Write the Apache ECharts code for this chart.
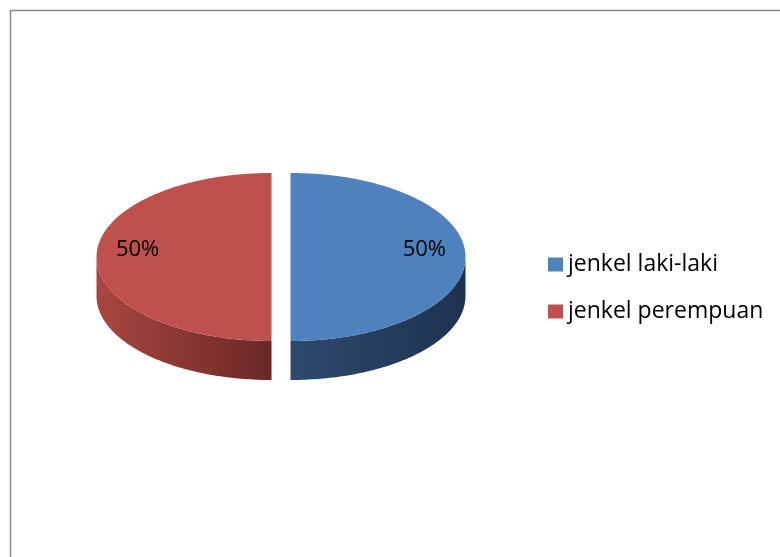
<!DOCTYPE html>
<html><head><meta charset="utf-8">
<script src="https://cdn.jsdelivr.net/npm/echarts@6/dist/echarts.min.js"></script>
<style>html,body{margin:0;padding:0;background:#fff}#c{width:780px;height:557px}</style>
</head><body><div id="c"></div>
<script>
var categories = ['jenkel laki-laki', 'jenkel perempuan'];
var values = [50, 50];
var topColors = ['#4F81BD', '#C0504D'];
var sideColorsA = ['#2D4A6E', '#A8463F'];
var sideColorsB = ['#1E3250', '#6A2826'];

var total = values.reduce(function (a, b) { return a + b; }, 0);
var FONT = '"Open Sans", "Noto Sans", sans-serif';

function makeRender(idx) {
  return function (params, api) {
    var cx = 281, cy = 257, rx = 175, ry = 84, depth = 39, explode = 9.5;
    var before = 0;
    for (var i = 0; i < idx; i++) before += values[i];
    var v = api.value(0);
    var a0 = before / total * Math.PI * 2;
    var a1 = (before + v) / total * Math.PI * 2;
    var mid = (a0 + a1) / 2;
    var ox = cx + explode * Math.sin(mid);
    var oy = cy - explode * Math.cos(mid) * ry / rx;
    function pt(t, d) { return [ox + rx * Math.sin(t), oy - ry * Math.cos(t) + (d || 0)]; }
    var N = 90, k, t;
    var s0 = Math.max(a0, Math.PI / 2), s1 = Math.min(a1, Math.PI * 1.5);
    var children = [];
    if (s1 > s0) {
      var top = [], bot = [];
      for (k = 0; k <= N; k++) { t = s0 + (s1 - s0) * k / N; top.push(pt(t)); bot.push(pt(t, depth)); }
      var side = top.concat(bot.reverse());
      children.push({
        type: 'polygon', shape: { points: side },
        style: { fill: { type: 'linear', x: 0, y: 0, x2: 1, y2: 0, colorStops: [
          { offset: 0, color: sideColorsA[idx] }, { offset: 1, color: sideColorsB[idx] }] } }
      });
    }
    var face = [[ox, oy]];
    for (k = 0; k <= N; k++) { t = a0 + (a1 - a0) * k / N; face.push(pt(t)); }
    children.push({ type: 'polygon', shape: { points: face }, style: { fill: topColors[idx] } });
    var pct = Math.round(v / total * 100) + '%';
    var lp = [ox + rx * 0.765 * Math.sin(mid), oy - ry * 0.765 * Math.cos(mid) - 7];
    children.push({ type: 'text', x: lp[0], y: lp[1], style: {
      text: pct, fill: '#000', font: '22px ' + FONT, align: 'center', verticalAlign: 'middle' } });
    return { type: 'group', children: children };
  };
}

var series = categories.map(function (name, i) {
  return {
    type: 'custom', name: name, coordinateSystem: 'none',
    itemStyle: { color: topColors[i] },
    renderItem: makeRender(i),
    data: [[values[i]]],
    silent: true
  };
});

var chart = echarts.init(document.getElementById('c'));
chart.setOption({
  animation: false,
  color: topColors,
  graphic: [{ type: 'rect', shape: { x: 10.5, y: 10.5, width: 900, height: 700 },
    style: { fill: 'none', stroke: '#878787', lineWidth: 1.5 } }],
  legend: {
    orient: 'vertical', left: 543, top: 248, itemGap: 24,
    icon: 'rect', itemWidth: 15, itemHeight: 14,
    textStyle: { fontSize: 23, fontFamily: FONT, color: '#000' },
    data: categories
  },
  series: series
});
</script></body></html>
